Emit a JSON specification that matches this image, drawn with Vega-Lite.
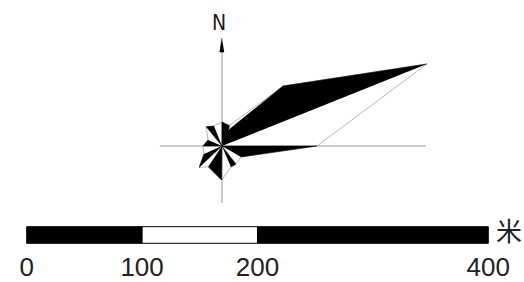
{
  "$schema": "https://vega.github.io/schema/vega-lite/v6.json",
  "width": 524,
  "height": 282,
  "autosize": {"type": "none"},
  "padding": 0,
  "background": "white",
  "config": {"view": {"stroke": null}},
  "datasets": {
    "axes": [
      {"x": 115.5, "y": 84.3, "x2": 346.0, "y2": 84.3},
      {"x": 169.2, "y": 34.9, "x2": 169.2, "y2": 171.0}
    ],
    "outline": [
      {"i": 0, "x": 169.2, "y": 105.1},
      {"i": 1, "x": 176.1, "y": 102.4},
      {"i": 2, "x": 222.1, "y": 136.3},
      {"i": 3, "x": 346.8, "y": 155.4},
      {"i": 4, "x": 251.5, "y": 84.3},
      {"i": 5, "x": 185.7, "y": 74.8},
      {"i": 6, "x": 181.3, "y": 68.7},
      {"i": 7, "x": 177.0, "y": 66.1},
      {"i": 8, "x": 168.9, "y": 54.8},
      {"i": 9, "x": 157.3, "y": 66.4},
      {"i": 10, "x": 149.5, "y": 65.8},
      {"i": 11, "x": 153.6, "y": 77.4},
      {"i": 12, "x": 152.7, "y": 84.3},
      {"i": 13, "x": 157.1, "y": 89.5},
      {"i": 14, "x": 155.6, "y": 101.0},
      {"i": 15, "x": 162.3, "y": 101.6},
      {"i": 16, "x": 169.2, "y": 105.1}
    ],
    "petals": [
      {"p": "d000", "i": 0, "x": 169.2, "y": 84.3},
      {"p": "d000", "i": 1, "x": 169.2, "y": 105.1},
      {"p": "d000", "i": 2, "x": 176.1, "y": 101.6},
      {"p": "d045", "i": 0, "x": 169.2, "y": 84.3},
      {"p": "d045", "i": 1, "x": 172.7, "y": 96.4},
      {"p": "d045", "i": 2, "x": 222.1, "y": 136.3},
      {"p": "d045", "i": 3, "x": 346.8, "y": 155.4},
      {"p": "d090", "i": 0, "x": 169.2, "y": 84.3},
      {"p": "d090", "i": 1, "x": 251.5, "y": 84.3},
      {"p": "d090", "i": 2, "x": 185.7, "y": 74.8},
      {"p": "d135", "i": 0, "x": 169.2, "y": 84.3},
      {"p": "d135", "i": 1, "x": 181.3, "y": 68.7},
      {"p": "d135", "i": 2, "x": 177.0, "y": 66.1},
      {"p": "d180", "i": 0, "x": 169.2, "y": 84.3},
      {"p": "d180", "i": 1, "x": 168.9, "y": 54.8},
      {"p": "d180", "i": 2, "x": 157.3, "y": 66.4},
      {"p": "d225", "i": 0, "x": 169.2, "y": 84.3},
      {"p": "d225", "i": 1, "x": 149.5, "y": 65.8},
      {"p": "d225", "i": 2, "x": 153.6, "y": 77.4},
      {"p": "d270", "i": 0, "x": 169.2, "y": 84.3},
      {"p": "d270", "i": 1, "x": 152.7, "y": 84.3},
      {"p": "d270", "i": 2, "x": 157.1, "y": 89.5},
      {"p": "d315", "i": 0, "x": 169.2, "y": 84.3},
      {"p": "d315", "i": 1, "x": 155.6, "y": 101.0},
      {"p": "d315", "i": 2, "x": 162.3, "y": 101.6},
      {"p": "arrow", "i": 0, "x": 169.2, "y": 177.8},
      {"p": "arrow", "i": 1, "x": 167.3, "y": 165.7},
      {"p": "arrow", "i": 2, "x": 171.1, "y": 165.7}
    ],
    "bar": [
      {"from": 0, "to": 100, "shade": "dark"},
      {"from": 100, "to": 200, "shade": "light"},
      {"from": 200, "to": 400, "shade": "dark"}
    ],
    "ticks": [
      {"label": "0", "x": 0},
      {"label": "100", "x": 100},
      {"label": "200", "x": 200},
      {"label": "400", "x": 400}
    ]
  },
  "layer": [
    {
      "data": {"name": "axes"},
      "mark": {"type": "rule", "color": "#9a9a9a", "strokeWidth": 1},
      "encoding": {
        "x": {"field": "x", "type": "quantitative", "scale": {"domain": [-23.14, 430.94], "nice": false, "zero": false}, "axis": null},
        "y": {"field": "y", "type": "quantitative", "scale": {"domain": [-33.54, 210.83], "nice": false, "zero": false}, "axis": null},
        "x2": {"field": "x2"},
        "y2": {"field": "y2"}
      }
    },
    {
      "data": {"name": "outline"},
      "mark": {"type": "line", "stroke": "#b0b0b0", "strokeWidth": 0.9},
      "encoding": {
        "x": {"field": "x", "type": "quantitative", "axis": null},
        "y": {"field": "y", "type": "quantitative", "axis": null},
        "order": {"field": "i", "type": "quantitative"}
      }
    },
    {
      "data": {"name": "petals"},
      "mark": {"type": "line", "fill": "black", "stroke": "black", "strokeWidth": 0.5, "strokeJoin": "miter"},
      "encoding": {
        "x": {"field": "x", "type": "quantitative", "axis": null},
        "y": {"field": "y", "type": "quantitative", "axis": null},
        "detail": {"field": "p", "type": "nominal"},
        "order": {"field": "i", "type": "quantitative"}
      }
    },
    {
      "data": {"name": "bar"},
      "mark": {"type": "rect", "stroke": "black", "strokeWidth": 1},
      "encoding": {
        "x": {"field": "from", "type": "quantitative", "axis": null},
        "x2": {"field": "to"},
        "y": {"datum": 0, "type": "quantitative"},
        "y2": {"datum": 14.4},
        "fill": {"field": "shade", "type": "nominal", "scale": {"domain": ["dark", "light"], "range": ["black", "white"]}, "legend": null}
      }
    },
    {
      "data": {"name": "ticks"},
      "mark": {"type": "text", "font": "Liberation Sans", "fontSize": 26, "color": "#222222", "align": "center", "baseline": "alphabetic"},
      "encoding": {
        "x": {"field": "x", "type": "quantitative", "axis": null},
        "y": {"datum": -28.3, "type": "quantitative"},
        "text": {"field": "label"}
      }
    },
    {
      "data": {"values": [{"label": "米"}]},
      "mark": {"type": "text", "font": "Noto Sans CJK SC", "fontSize": 26, "color": "#222222", "align": "center", "baseline": "alphabetic"},
      "encoding": {
        "x": {"datum": 418, "type": "quantitative"},
        "y": {"datum": 2.0, "type": "quantitative"},
        "text": {"field": "label"}
      }
    },
    {
      "data": {"values": [{"label": "N"}]},
      "mark": {"type": "text", "font": "DejaVu Sans Condensed, Liberation Sans Narrow, sans-serif", "fontSize": 21, "color": "#1a1a1a", "align": "center", "baseline": "alphabetic"},
      "encoding": {
        "x": {"datum": 166.6, "type": "quantitative"},
        "y": {"datum": 184.8, "type": "quantitative"},
        "text": {"field": "label"}
      }
    }
  ]
}
